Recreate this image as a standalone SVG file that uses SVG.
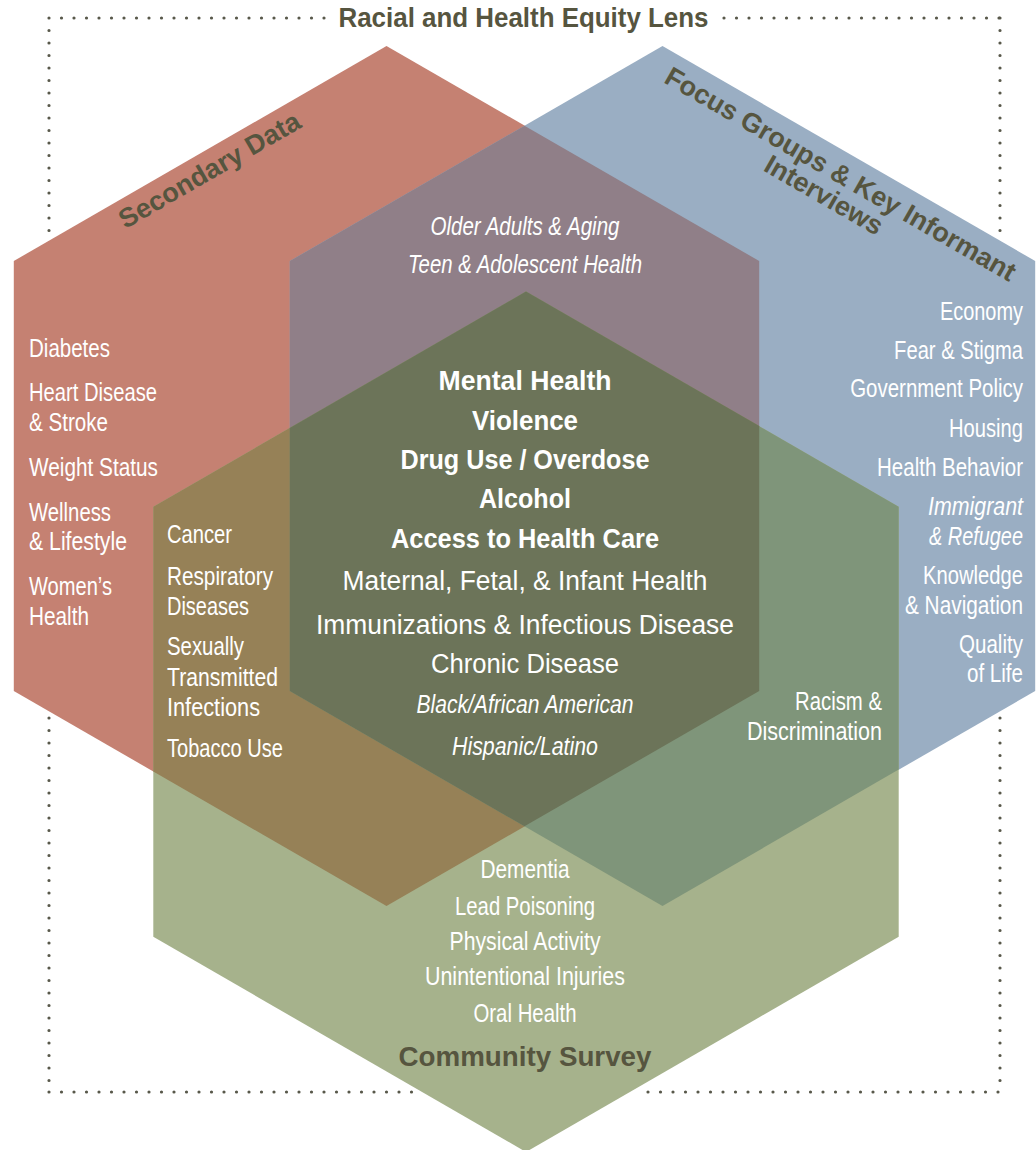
<svg xmlns="http://www.w3.org/2000/svg" width="1036" height="1150" viewBox="0 0 1036 1150">
<style>
.dots{fill:none;stroke:#58584a;stroke-width:3.2;stroke-linecap:round;stroke-dasharray:0 12.5}
.w{fill:#ffffff;font-family:"Liberation Sans Narrow","Liberation Sans",Arial,sans-serif;font-size:25px}
.r{fill:#ffffff;font-family:"Liberation Sans",Arial,sans-serif;font-size:25px;text-anchor:end}
.c{font-size:27px}
.b{font-weight:bold}
.i{font-style:italic}
.lab{fill:#56553f;font-family:"Liberation Sans",Arial,sans-serif;font-weight:bold;font-size:27px}
.m{text-anchor:middle}
.e{text-anchor:end}
</style>
<rect width="1036" height="1150" fill="#ffffff"/>
<g id="equity-lens-frame">
<path class="dots" d="M49,18 H325 M724,18 H1000 M49,18 V1092 M1000,18 V1092 M49,1092 H416 M648,1092 H1000"/>
<text class="lab" x="523.5" y="27" font-size="26" text-anchor="middle" textLength="370" lengthAdjust="spacingAndGlyphs">Racial and Health Equity Lens</text>
</g>
<g id="hexagons">
<polygon id="hex-secondary" fill="#c58172" points="386.5,46 759.2,261 759.2,691 386.5,906 13.8,691 13.8,261"/>
<polygon id="hex-focus" fill="#9aaec3" points="662.5,46 1035.2,261 1035.2,691 662.5,906 289.8,691 289.8,261"/>
<polygon id="hex-survey" fill="#a6b28c" points="526,291.5 898.7,506.7 898.7,936.8 526,1152 153.3,936.8 153.3,506.7"/>
<polygon id="overlap-secondary-focus" fill="#907f88" points="524.5,125.7 759.2,261 759.2,691 524.5,826.3 289.8,691 289.8,261"/>
<polygon id="overlap-secondary-survey" fill="#968157" points="153.3,506.7 526,291.5 759.2,426.1 759.2,691 386.5,906 153.3,771.5"/>
<polygon id="overlap-focus-survey" fill="#7f957a" points="898.7,506.7 526,291.5 289.8,427.9 289.8,691 662.5,906 898.7,769.6"/>
<polygon id="overlap-all" fill="#6c7459" points="526,291.5 759.2,426.1 759.2,691 524.5,826.3 289.8,691 289.8,427.9"/>
</g>
<g id="label-secondary-data">
<text class="lab m" transform="translate(214,178) rotate(-30)" textLength="205" lengthAdjust="spacingAndGlyphs">Secondary Data</text>
</g>
<g id="label-focus-groups" transform="translate(836,182) rotate(30)">
<text class="lab m" x="0" y="0" textLength="400" lengthAdjust="spacingAndGlyphs">Focus Groups &amp; Key Informant</text>
<text class="lab m" x="-4" y="26.5" textLength="132" lengthAdjust="spacingAndGlyphs">Interviews</text>
</g>
<g id="label-community-survey">
<text class="lab m" x="525" y="1066" font-size="26" textLength="253" lengthAdjust="spacingAndGlyphs">Community Survey</text>
</g>
<g id="node-secondary-only">
<text class="w" x="29" y="357" textLength="81" lengthAdjust="spacingAndGlyphs">Diabetes</text>
<text class="w" x="29" y="401" textLength="128" lengthAdjust="spacingAndGlyphs">Heart Disease</text>
<text class="w" x="29" y="431" textLength="79" lengthAdjust="spacingAndGlyphs">&amp; Stroke</text>
<text class="w" x="29" y="475.5" textLength="129" lengthAdjust="spacingAndGlyphs">Weight Status</text>
<text class="w" x="29" y="521" textLength="82" lengthAdjust="spacingAndGlyphs">Wellness</text>
<text class="w" x="29" y="550" textLength="98" lengthAdjust="spacingAndGlyphs">&amp; Lifestyle</text>
<text class="w" x="29" y="595" textLength="83" lengthAdjust="spacingAndGlyphs">Women’s</text>
<text class="w" x="29" y="625" textLength="60" lengthAdjust="spacingAndGlyphs">Health</text>
</g>
<g id="node-secondary-survey">
<text class="w" x="167" y="543" textLength="65" lengthAdjust="spacingAndGlyphs">Cancer</text>
<text class="w" x="167" y="585" textLength="106" lengthAdjust="spacingAndGlyphs">Respiratory</text>
<text class="w" x="167" y="615" textLength="82" lengthAdjust="spacingAndGlyphs">Diseases</text>
<text class="w" x="167" y="655" textLength="77" lengthAdjust="spacingAndGlyphs">Sexually</text>
<text class="w" x="167" y="686" textLength="111" lengthAdjust="spacingAndGlyphs">Transmitted</text>
<text class="w" x="167" y="716" textLength="93" lengthAdjust="spacingAndGlyphs">Infections</text>
<text class="w" x="167" y="757" textLength="116" lengthAdjust="spacingAndGlyphs">Tobacco Use</text>
</g>
<g id="node-focus-only">
<text class="r" transform="translate(1023,319.5) scale(0.797,1)">Economy</text>
<text class="r" transform="translate(1023,358.5) scale(0.807,1)">Fear &amp; Stigma</text>
<text class="r" transform="translate(1023,397) scale(0.819,1)">Government Policy</text>
<text class="r" transform="translate(1023,437) scale(0.807,1)">Housing</text>
<text class="r" transform="translate(1023,476) scale(0.821,1)">Health Behavior</text>
<text class="r i" transform="translate(1023,515) scale(0.855,1)">Immigrant</text>
<text class="r i" transform="translate(1023,545) scale(0.796,1)">&amp; Refugee</text>
<text class="r" transform="translate(1023,584) scale(0.808,1)">Knowledge</text>
<text class="r" transform="translate(1023,614) scale(0.833,1)">&amp; Navigation</text>
<text class="r" transform="translate(1023,653) scale(0.823,1)">Quality</text>
<text class="r" transform="translate(1023,682) scale(0.822,1)">of Life</text>
</g>
<g id="node-focus-survey">
<text class="w e" x="882" y="710" textLength="87" lengthAdjust="spacingAndGlyphs">Racism &amp;</text>
<text class="w e" x="882" y="740" textLength="135" lengthAdjust="spacingAndGlyphs">Discrimination</text>
</g>
<g id="node-secondary-focus">
<text class="w m i" x="525" y="235" textLength="189" lengthAdjust="spacingAndGlyphs">Older Adults &amp; Aging</text>
<text class="w m i" x="525" y="273" textLength="234" lengthAdjust="spacingAndGlyphs">Teen &amp; Adolescent Health</text>
</g>
<g id="node-all-three">
<text class="w c b m" x="525" y="390" textLength="173" lengthAdjust="spacingAndGlyphs">Mental Health</text>
<text class="w c b m" x="525" y="429.5" textLength="106" lengthAdjust="spacingAndGlyphs">Violence</text>
<text class="w c b m" x="525" y="468.5" textLength="249" lengthAdjust="spacingAndGlyphs">Drug Use / Overdose</text>
<text class="w c b m" x="525" y="508" textLength="92" lengthAdjust="spacingAndGlyphs">Alcohol</text>
<text class="w c b m" x="525" y="548" textLength="268" lengthAdjust="spacingAndGlyphs">Access to Health Care</text>
<text class="w c m" x="525" y="590" textLength="365" lengthAdjust="spacingAndGlyphs">Maternal, Fetal, &amp; Infant Health</text>
<text class="w c m" x="525" y="633.5" textLength="418" lengthAdjust="spacingAndGlyphs">Immunizations &amp; Infectious Disease</text>
<text class="w c m" x="525" y="673" textLength="188" lengthAdjust="spacingAndGlyphs">Chronic Disease</text>
<text class="w m i" x="525" y="713" textLength="217" lengthAdjust="spacingAndGlyphs">Black/African American</text>
<text class="w m i" x="525" y="755" textLength="146" lengthAdjust="spacingAndGlyphs">Hispanic/Latino</text>
</g>
<g id="node-survey-only">
<text class="w m" x="525" y="878" textLength="89" lengthAdjust="spacingAndGlyphs">Dementia</text>
<text class="w m" x="525" y="915" textLength="140" lengthAdjust="spacingAndGlyphs">Lead Poisoning</text>
<text class="w m" x="525" y="949.5" textLength="151" lengthAdjust="spacingAndGlyphs">Physical Activity</text>
<text class="w m" x="525" y="985" textLength="200" lengthAdjust="spacingAndGlyphs">Unintentional Injuries</text>
<text class="w m" x="525" y="1021.5" textLength="103" lengthAdjust="spacingAndGlyphs">Oral Health</text>
</g>
</svg>
